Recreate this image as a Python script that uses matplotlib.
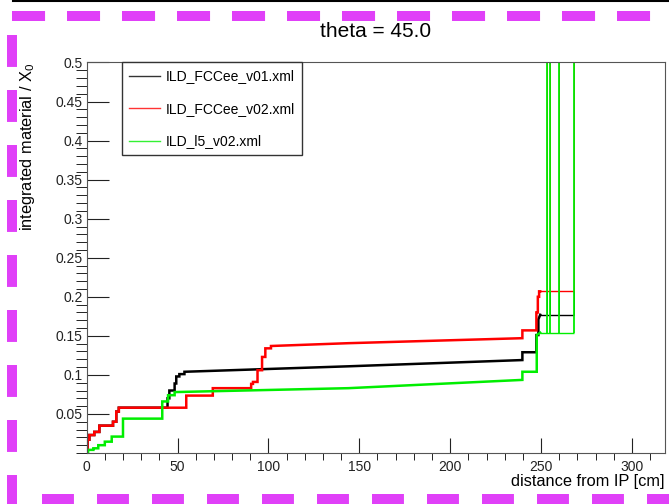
import matplotlib
matplotlib.use('Agg')
import matplotlib.pyplot as plt
from matplotlib.lines import Line2D

plt.rcParams['font.family'] = ['Liberation Sans', 'DejaVu Sans']
plt.rcParams['mathtext.fontset'] = 'custom'
plt.rcParams['mathtext.rm'] = 'Liberation Sans'
plt.rcParams['lines.scale_dashes'] = False

# vertices of each curve: x = distance from IP [cm], y = integrated material / X0
v01_x = [0, 0.5, 0.5, 1.5, 1.5, 4.2, 4.2, 7, 7, 14.5, 14.5, 16.3, 16.3, 17.7, 17.7, 44.5, 44.5, 45.5, 45.5,
         48.4, 48.4, 49.3, 49.3, 51, 51, 53.8, 53.8, 144, 239.7, 239.7, 247.4, 247.4, 248.5, 248.5, 249.5]
v01_y = [0, 0, 0.017, 0.017, 0.023, 0.023, 0.027, 0.027, 0.035, 0.035, 0.040, 0.040, 0.053, 0.053, 0.058, 0.058,
         0.070, 0.070, 0.080, 0.080, 0.089, 0.089, 0.098, 0.098, 0.101, 0.101, 0.104, 0.111, 0.119, 0.129, 0.129,
         0.151, 0.151, 0.171, 0.177]

v02_x = [0, 0.5, 0.5, 1.5, 1.5, 4.2, 4.2, 7, 7, 14.5, 14.5, 16.3, 16.3, 17.7, 17.7, 54.8, 54.8, 69.4, 69.4,
         90.5, 90.5, 91.5, 91.5, 94, 94, 96.5, 96.5, 98.3, 98.3, 101.4, 101.4, 144, 239.7, 239.7, 247.4, 247.4,
         248.2, 248.2, 248.9, 248.9, 249.5]
v02_y = [0, 0, 0.017, 0.017, 0.023, 0.023, 0.027, 0.027, 0.035, 0.035, 0.040, 0.040, 0.053, 0.053, 0.058, 0.058,
         0.0735, 0.0735, 0.083, 0.083, 0.0885, 0.0885, 0.091, 0.091, 0.106, 0.106, 0.123, 0.123, 0.134, 0.134,
         0.137, 0.1406, 0.147, 0.157, 0.157, 0.180, 0.180, 0.200, 0.200, 0.207, 0.207]

l5_x = [0, 0.8, 0.8, 3.7, 3.7, 6.4, 6.4, 10, 10, 13.8, 13.8, 20, 20, 41.6, 41.6, 44.8, 44.8, 48.4, 48.4,
        144, 239.7, 239.7, 247.6, 247.6, 249.5]
l5_y = [0, 0, 0.004, 0.004, 0.006, 0.006, 0.010, 0.010, 0.0145, 0.0145, 0.021, 0.021, 0.044, 0.044, 0.066, 0.066,
        0.074, 0.074, 0.078, 0.083, 0.0936, 0.104, 0.104, 0.151, 0.154]

# outer region: lines shoot off the top of the plot at these distances
spike_x = [253.0, 254.9, 260.0, 268.3]
end_x = 268.3

labels = ['ILD_FCCee_v01.xml', 'ILD_FCCee_v02.xml', 'ILD_l5_v02.xml']
colors = ['#000000', '#ff0000', '#00ee00']
spike_lw = [0.7, 0.7, 1.3]

fig = plt.figure(figsize=(6.69, 5.04), dpi=100)
ax = fig.add_axes([0.1295, 0.1012, 0.8641, 0.7748])

for xs, ys, c, slw in zip([v01_x, v02_x, l5_x], [v01_y, v02_y, l5_y], colors, spike_lw):
    ax.plot(xs, ys, color=c, lw=1.8, solid_joinstyle='miter')
    ax.hlines(ys[-1], xs[-1], end_x, color=c, lw=1)
    ax.vlines(spike_x, ys[-1], 1.0, color=c, lw=slw)

ax.set_xlim(0, 318)
ax.set_ylim(0, 0.5)
ax.set_xticks([0, 50, 100, 150, 200, 250, 300])
ax.set_xticks(range(0, 320, 10), minor=True)
ax.set_yticks([0.05, 0.1, 0.15, 0.2, 0.25, 0.3, 0.35, 0.4, 0.45, 0.5])
ax.set_yticklabels(['0.05', '0.1', '0.15', '0.2', '0.25', '0.3', '0.35', '0.4', '0.45', '0.5'])
ax.set_yticks([i * 0.01 for i in range(51)], minor=True)
ax.tick_params(direction='in', labelsize=10, colors='#222222')
ax.tick_params(axis='y', which='major', length=16, pad=3)
ax.tick_params(axis='y', which='minor', length=8)
ax.tick_params(axis='x', which='major', length=11, pad=5)
ax.tick_params(axis='x', which='minor', length=5)
for s in ax.spines.values():
    s.set_color('#555555')

ax.set_title('theta = 45.0', fontsize=15, pad=18)
ax.set_xlabel('distance from IP [cm]', fontsize=11.8, loc='right', labelpad=0)
ax.set_ylabel(r'integrated material / X$_\mathregular{0}$', fontsize=11.8, loc='top', labelpad=13)

handles = [Line2D([], [], color=c, lw=1, alpha=0.8) for c in colors]
leg = ax.legend(handles, labels, loc='upper left', bbox_to_anchor=(0.0612, 1.0), borderaxespad=0,
                fontsize=10, handlelength=2.23, handletextpad=0.43, labelspacing=1.33,
                borderpad=0.5, fancybox=False, framealpha=1, edgecolor='#333333')
leg.get_frame().set_linewidth(1)

# decorative frame around the picture
W, H = 669.0, 504.0
mag = '#e040f8'
fig.add_artist(Line2D([13 / W, 1], [1 - 1 / H, 1 - 1 / H], color='black', lw=1.5, transform=fig.transFigure))
fig.add_artist(Line2D([11.5 / W, 1], [1 - 16 / H, 1 - 16 / H], color=mag, lw=7.2,
                      dash_capstyle='butt', linestyle=(0, (23.8, 15.8)), transform=fig.transFigure))
fig.add_artist(Line2D([12 / W, 12 / W], [1 - 35 / H, 0], color=mag, lw=7.2,
                      dash_capstyle='butt', linestyle=(0, (23.0, 16.6)), transform=fig.transFigure))
fig.add_artist(Line2D([42 / W, 1], [5 / H, 5 / H], color=mag, lw=7.2,
                      dash_capstyle='butt', linestyle=(0, (23.0, 16.6)), transform=fig.transFigure))

fig.savefig('out.png', dpi=100)
